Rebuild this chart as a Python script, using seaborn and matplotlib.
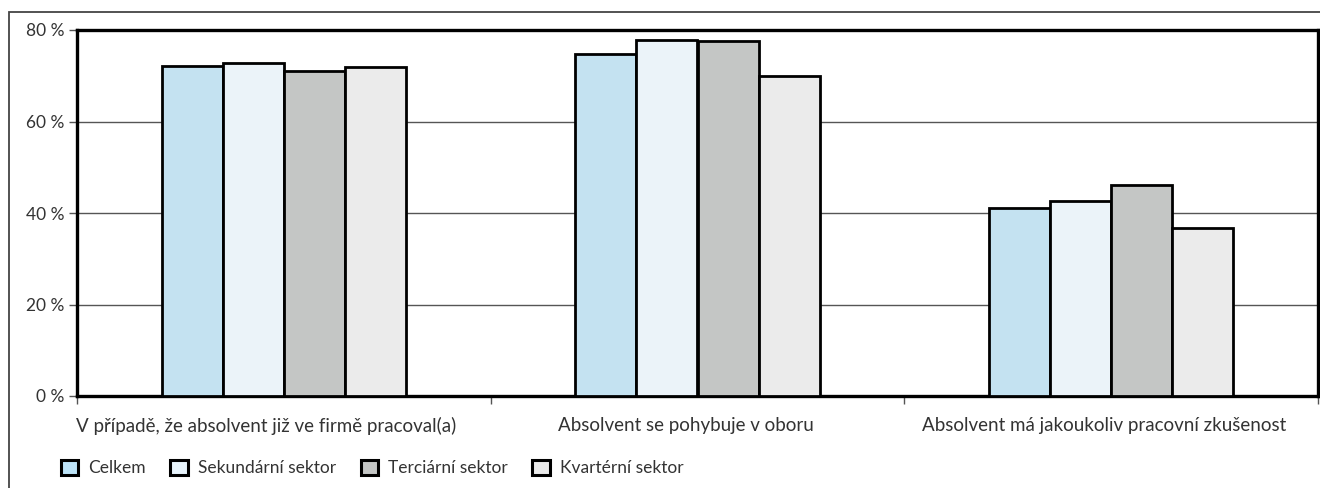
import matplotlib
matplotlib.use("Agg")
import matplotlib.pyplot as plt
import matplotlib.transforms as mtransforms
import seaborn as sns
import pandas as pd
from matplotlib.patches import Rectangle, Patch
from matplotlib.ticker import FixedLocator

categories = ["V případě, že absolvent již ve firmě pracoval(a)",
              "Absolvent se pohybuje v oboru",
              "Absolvent má jakoukoliv pracovní zkušenost"]
series = ["Celkem", "Sekundární sektor", "Terciární sektor", "Kvartérní sektor"]
celkem = [72.1, 74.8, 41.2]
sekundarni = [72.8, 77.8, 42.7]
terciarni = [71.0, 77.6, 46.1]
kvarterni = [71.9, 69.9, 36.7]
colors = ["#bde4f8", "#e8f4fc", "#c4c6c5", "#ebebeb"]
yticks = [0, 20, 40, 60, 80]
ytick_labels = ["0 %", "20 %", "40 %", "60 %", "80 %"]

rows = []
for s, vals in zip(series, [celkem, sekundarni, terciarni, kvarterni]):
    for c, v in zip(categories, vals):
        rows.append({"cat": c, "series": s, "value": v})
df = pd.DataFrame(rows)

sns.set_theme(style="white")
plt.rcParams["font.family"] = ["Lato", "DejaVu Sans"]

W, H = 1320, 488
fig = plt.figure(figsize=(W / 100, H / 100), dpi=100)
ax = fig.add_axes([77 / W, 1 - 396 / H, (1318 - 77) / W, (396 - 30) / H])

sns.barplot(data=df, x="cat", y="value", hue="series", order=categories,
            hue_order=series, palette=colors, width=0.59, gap=0,
            edgecolor="black", linewidth=2, ax=ax, legend=False, zorder=3)

txtcol = "#333333"
ax.set_ylim(0, 80)
ax.set_xlim(-0.5, 2.5)
ax.set_yticks(yticks)
ax.set_yticklabels(ytick_labels, fontsize=12.5, color=txtcol)
ax.yaxis.grid(True, color="#555555", linewidth=1, zorder=0)
ax.set_axisbelow(True)
ax.tick_params(axis="y", which="major", length=6, width=1, color="#555555", pad=3, left=True)
ax.tick_params(axis="x", which="major", length=0, pad=15, labelsize=13.5, labelcolor=txtcol)
ax.xaxis.set_minor_locator(FixedLocator([-0.5, 0.5, 1.5, 2.5]))
ax.tick_params(axis="x", which="minor", length=6, width=1, color="#555555", bottom=True)
ax.set_xlabel("")
ax.set_ylabel("")
for sp in ax.spines.values():
    sp.set_visible(True)
    sp.set_color("black")
    sp.set_linewidth(2.4)

# slight left shift of category labels as in the reference
shifts = [-18, -12, -7]
for lab, dx in zip(ax.get_xticklabels(), shifts):
    lab.set_transform(lab.get_transform() + mtransforms.ScaledTranslation(dx / 100, 0, fig.dpi_scale_trans))

fig.patches.append(Rectangle((9 / W, -0.05), 1.0, 1 - 12 / H + 0.05,
                             transform=fig.transFigure, fill=False,
                             edgecolor="#444444", linewidth=1.3))

handles = [Patch(facecolor=c, edgecolor="black", linewidth=2.2) for c in colors]
fig.legend(handles, series, loc="center left", bbox_to_anchor=(45 / W, 1 - 468 / H),
           ncol=4, frameon=False, fontsize=12.5, handlelength=1.0, handleheight=1.0,
           handletextpad=0.6, columnspacing=1.4, labelcolor=txtcol)

fig.savefig("out.png", dpi=100)
